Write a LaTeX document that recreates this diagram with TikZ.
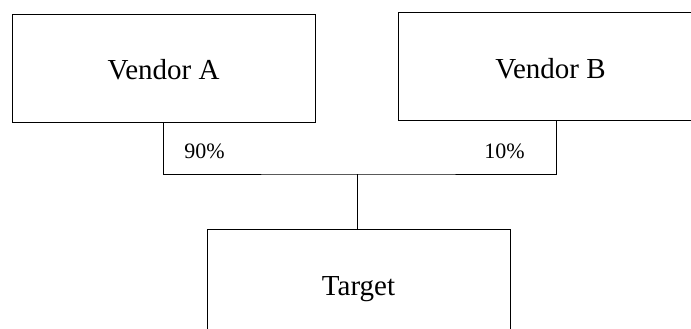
\documentclass[tikz,border=0pt]{standalone}
\usepackage{fontspec}
\setmainfont{Liberation Serif}
\begin{document}
\begin{tikzpicture}[x=1pt, y=-1pt, line width=0.9pt,
    box/.style={draw, rectangle, inner sep=0pt, minimum height=108pt,
        text height=24pt, text depth=0pt, font=\fontsize{29}{33}\selectfont},
    pct/.style={inner sep=0pt, anchor=base, font=\fontsize{22}{26}\selectfont}]
    \useasboundingbox (0,0) rectangle (691,329);
    \clip (0,0) rectangle (691,329);

    % boxes
    \node[box, minimum width=303pt] (va) at (163.5,68) {Vendor A};
    \node[box, minimum width=305pt] (vb) at (550.5,66) {Vendor B};
    \node[box, minimum width=303pt] (tg) at (358.5,283) {Target};

    % connectors
    \coordinate (jn) at (357,174);
    \draw (va.south) |- (jn) -| ([xshift=5.5pt]vb.south);
    \draw (jn) -- (jn |- tg.north);

    % shares
    \node[pct] (pa) at (204.5,158) {90\%};
    \node[pct] (pb) at (504.5,158) {10\%};
\end{tikzpicture}
\end{document}
